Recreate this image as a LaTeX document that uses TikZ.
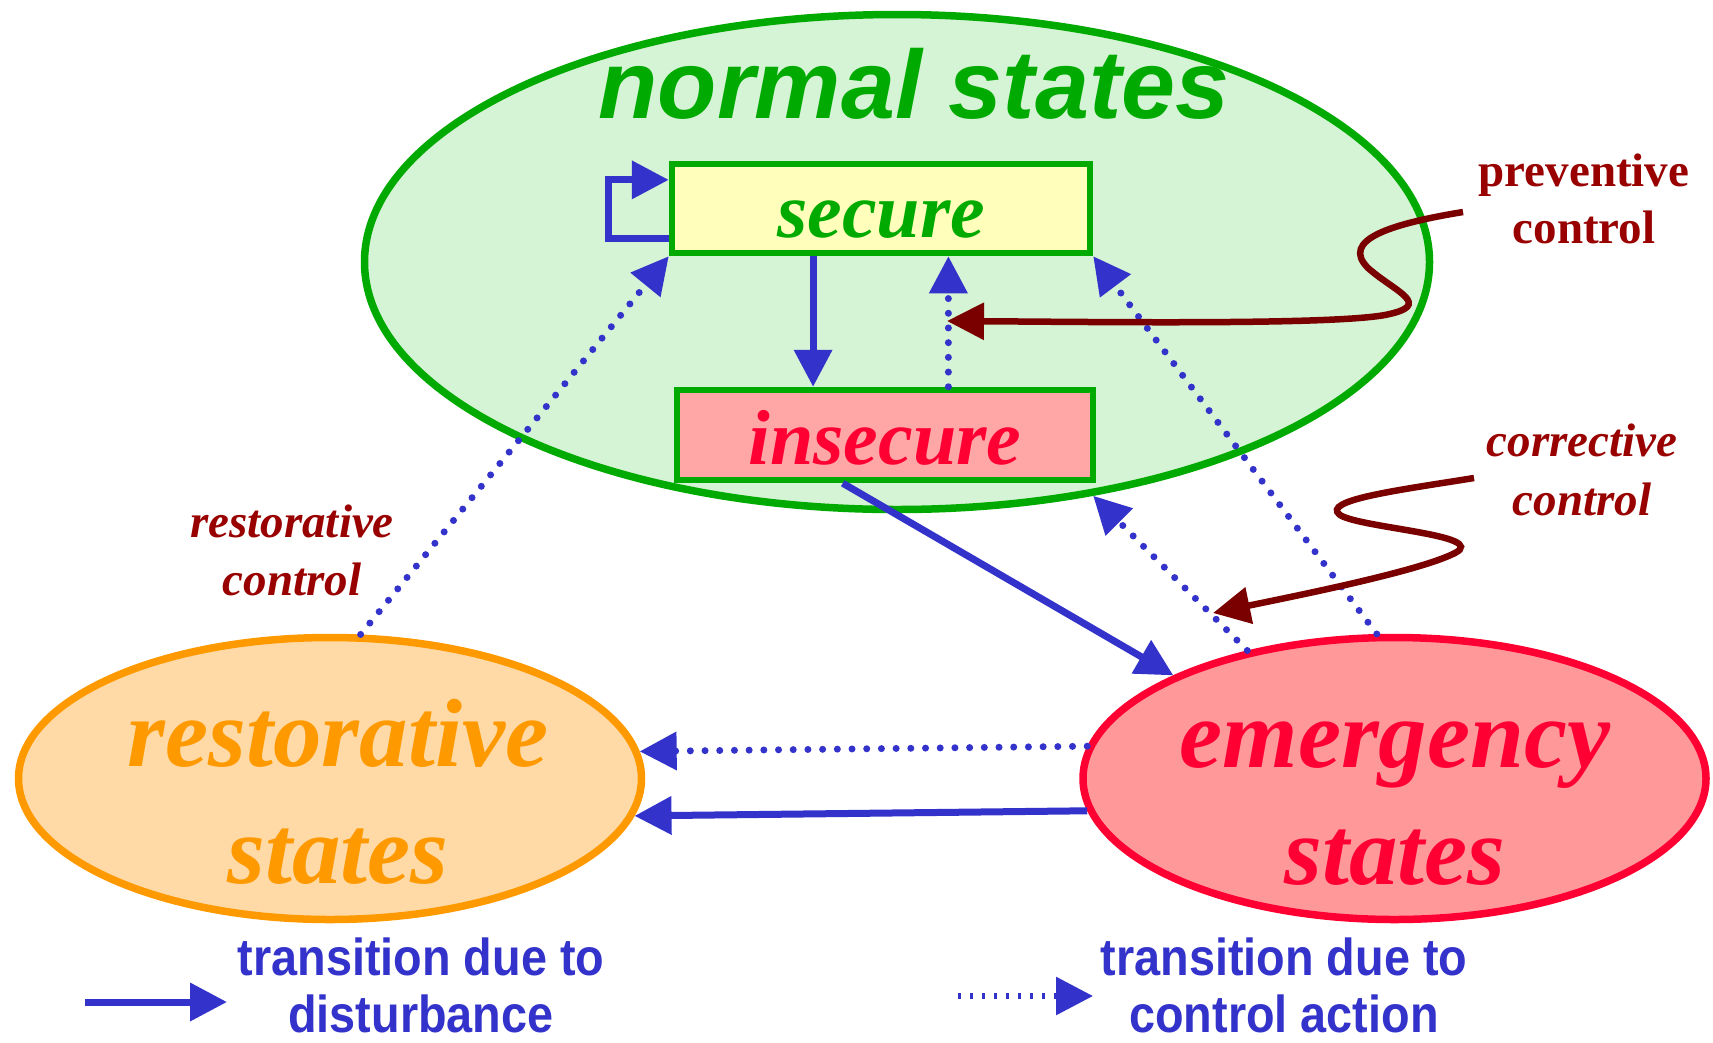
\documentclass[tikz,border=0pt]{standalone}
\usepackage{fontspec}
\setmainfont{Liberation Serif}
\newfontfamily\sansfont{Liberation Sans}
\newfontfamily\legfont[FakeStretch=0.9]{Liberation Sans}
\usetikzlibrary{shapes.geometric,arrows.meta,calc}
\definecolor{nsgreen}{RGB}{0,170,0}
\definecolor{nsfill}{RGB}{213,243,213}
\definecolor{secfill}{RGB}{255,255,187}
\definecolor{insfill}{RGB}{255,166,166}
\definecolor{insred}{RGB}{255,0,51}
\definecolor{resorange}{RGB}{255,153,0}
\definecolor{resfill}{RGB}{255,218,166}
\definecolor{emfill}{RGB}{255,153,153}
\definecolor{myblue}{RGB}{51,51,204}
\definecolor{ctrlred}{RGB}{122,0,0}
\definecolor{lblred}{RGB}{153,0,0}
\tikzset{
  stateell/.style={ellipse, line width=7.5pt, inner sep=0pt},
  boxst/.style={rectangle, draw=nsgreen, line width=6.5pt, inner sep=0pt,
    font=\fontsize{78}{90}\selectfont\bfseries\itshape},
  bigtxt/.style={align=center, inner sep=0pt, font=\fontsize{97}{117}\selectfont\bfseries\itshape},
  lbl/.style={align=center, inner sep=0pt, text=lblred},
  legtxt/.style={align=center, inner sep=0pt, text=myblue,
    font=\legfont\fontsize{52}{57}\selectfont\bfseries},
  bluetip/.style={-{Triangle[length=37pt,width=37pt]}},
  solidarrow/.style={draw=myblue, line width=7pt, bluetip},
  dotarrow/.style={draw=myblue, line width=7pt, line cap=round, dash pattern=on 0pt off 14.7pt, bluetip},
  ctrlarrow/.style={draw=ctrlred, line width=6.5pt, -{Triangle[length=37pt,width=36pt]}},
}
\begin{document}
\begin{tikzpicture}[x=1pt,y=-1pt]
\useasboundingbox (0,0) rectangle (1713,1042);
\fill[white] (0,0) rectangle (1713,1042);

% state ellipses
\node[stateell, draw=nsgreen, fill=nsfill, minimum width=1065pt, minimum height=495pt] (normal) at (897,262) {};
\node[stateell, draw=resorange, fill=resfill, minimum width=623pt, minimum height=282pt] (rest) at (330,778.5) {};
\node[stateell, draw=insred, fill=emfill, minimum width=623pt, minimum height=282pt] (emerg) at (1394.5,778.5) {};

\node[anchor=base, inner sep=0pt, text=nsgreen, font=\sansfont\fontsize{97}{117}\selectfont\bfseries\itshape] (normaltxt) at (914,118) {normal states};
\node[bigtxt, text=resorange] (resttxt) at (338,792) {restorative\\states};
\node[bigtxt, text=insred] (emergtxt) at (1395,804) {emergency\\states};

% boxes
\node[boxst, fill=secfill, minimum width=418pt, minimum height=89pt, text=nsgreen, text height=57pt, text depth=0pt] (secure) at (881,208.5) {secure};
\node[boxst, fill=insfill, minimum width=416pt, minimum height=90pt, text=insred, text height=58pt, text depth=0pt] (insec) at (885,435) {insecure};

% labels
\node[lbl, font=\fontsize{47}{57}\selectfont\bfseries] (prevlbl) at (1584,199) {preventive\\control};
\node[lbl, font=\fontsize{47}{59}\selectfont\bfseries\itshape] (corrlbl) at (1582,470) {corrective\\control};
\node[lbl, font=\fontsize{47}{58}\selectfont\bfseries\itshape] (restlbl) at (292,550) {restorative\\control};

% legend
\node[legtxt] (leg1) at (421,985) {transition due to\\disturbance};
\node[legtxt] (leg2) at (1284,985) {transition due to\\control action};
\coordinate (l1a) at (85,1002);
\coordinate (l1b) at (227,1002);
\coordinate (l2a) at (958,996);
\coordinate (l2b) at (1093,996);
\draw[solidarrow] (l1a) -- (l1b);
\draw[dotarrow, line cap=butt, line width=6pt, dash pattern=on 3pt off 9pt] (l2a) -- (l2b);

% transitions inside normal states
\draw[solidarrow] ($(secure.south west)!0.34!(secure.south east)$) coordinate (sd) -- (sd |- insec.north);
\draw[dotarrow] ($(insec.north west)!0.65!(insec.north east)$) coordinate (iu) -- (iu |- secure.south);
\draw[solidarrow] ($(secure.south west)!0.19!(secure.north west)$) -- ++(-60,0) |- ($(secure.south west)!0.8!(secure.north west)$);

% transitions between states
\draw[dotarrow] (rest.78) -- (secure.south west);
\draw[dotarrow] (emerg.97) -- (secure.south east);
\draw[dotarrow] (emerg.139.7) -- (normal.310.5);
\draw[solidarrow] ($(insec.south west)!0.4!(insec.south east)$) -- (emerg.155);
\draw[dotarrow] (emerg.174.2) -- (rest.5.8);
\draw[solidarrow] (emerg.186.7) -- (rest.353.3);

% control wiggles
\coordinate (pvs) at (1463,212);
\coordinate (pve) at (947,321);
\draw[ctrlarrow] (pvs) .. controls (1390,224) and (1340,240) .. (1368,268)
  .. controls (1395,292) and (1435,305) .. (1385,315)
  .. controls (1330,325) and (1100,322) .. (pve);
\coordinate (crs) at (1474,478);
\coordinate (cre) at (1213,613);
\draw[ctrlarrow] (crs) .. controls (1400,490) and (1320,500) .. (1340,515)
  .. controls (1360,528) and (1490,535) .. (1455,553)
  .. controls (1420,571) and (1300,595) .. (cre);
\end{tikzpicture}
\end{document}
